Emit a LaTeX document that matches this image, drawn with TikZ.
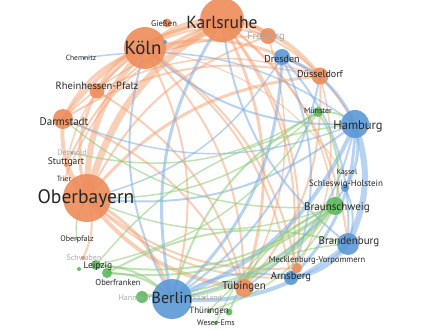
\documentclass[tikz,border=0pt]{standalone}
\usepackage{fontspec}
\setmainfont{PT Sans}
\definecolor{orn}{HTML}{EE8C5A}
\definecolor{ornE}{HTML}{F5A070}
\definecolor{blu}{HTML}{5B98D6}
\definecolor{bluE}{HTML}{7EAEE6}
\definecolor{grn}{HTML}{5CB85C}
\definecolor{grnE}{HTML}{8CCB78}
\definecolor{txt}{HTML}{262626}
\definecolor{faint}{HTML}{ABABAB}
\pgfdeclarelayer{edges}
\pgfsetlayers{edges,main}
\newcommand{\fs}[1]{\fontsize{#1}{#1}\selectfont}
\begin{document}
\begin{tikzpicture}[x=1pt,y=-1pt,
  vert/.style={circle,inner sep=0pt,minimum size=#1,draw=none,fill opacity=0.9},
  vo/.style={vert=#1,fill=orn},
  vb/.style={vert=#1,fill=blu},
  vg/.style={vert=#1,fill=grn},
  lab/.style={inner sep=0pt,text=txt},
  flab/.style={inner sep=0pt,text=faint},
  eo/.style={draw=ornE,opacity=0.5},
  eb/.style={draw=bluE,opacity=0.55},
  eg/.style={draw=grnE,opacity=0.55}]
\useasboundingbox (0,0) rectangle (423,331);
% vertices
\node[vo=44pt] (Karlsruhe) at (222,20) {};
\node[vo=42pt] (Koeln) at (145,48) {};
\node[vo=48pt] (Oberbayern) at (87,198) {};
\node[vo=9pt] (Giessen) at (167,23) {};
\node[vo=15pt] (Rheinhessen) at (97,91) {};
\node[vo=20pt] (Darmstadt) at (63,119) {};
\node[vo=16pt] (Freiburg) at (268,36) {};
\node[vo=17pt] (Duesseldorf) at (320,76) {};
\node[vo=18pt] (Tuebingen) at (244,288) {};
\node[vo=10pt] (Mecklenburg) at (297,268) {};
\node[vo=4pt] (Stuttgart) at (66,165) {};
\node[vo=3pt] (Trier) at (64,180) {};
\node[vo=4pt] (Schwaben) at (83,258) {};
\node[vo=3pt] (Kassel) at (346,175) {};
\node[vb=28pt] (Hamburg) at (355,124) {};
\node[vb=40pt] (Berlin) at (172,299) {};
\node[vb=22pt] (Brandenburg) at (348,244) {};
\node[vb=16pt] (Dresden) at (282,57) {};
\node[vb=14pt] (Arnsberg) at (291,278) {};
\node[vb=8pt] (Schleswig) at (345,188) {};
\node[vb=3pt] (Chemnitz) at (84,58) {};
\node[vb=4pt] (Extra) at (165,42) {};
\node[vg=18pt] (Braunschweig) at (335,206) {};
\node[vg=10pt] (Muenster) at (318,112) {};
\node[vg=10pt] (Leipzig) at (96,265) {};
\node[vg=10pt] (Oberfranken) at (107,273) {};
\node[vg=12pt] (Hannover) at (142,297) {};
\node[vg=5pt] (Thueringen) at (209,311) {};
\node[vg=7pt] (ExtraG) at (229,312) {};
\node[vg=4pt] (WeserEms) at (216,323) {};
\node[vg=3pt] (Detmold) at (72,153) {};
\node[vg=3pt] (Oberpfalz) at (77,239) {};
\node[vg=4pt] (SmallG) at (79,269) {};
\node[vo=3pt] (Saarland) at (204,298) {};
% edges
\begin{pgfonlayer}{edges}
\foreach \a/\b/\s/\w in {
 Karlsruhe/Koeln/eo/6, Oberbayern/Karlsruhe/eo/7, Darmstadt/Karlsruhe/eo/4,
 Rheinhessen/Karlsruhe/eo/3, Karlsruhe/Duesseldorf/eo/4, Karlsruhe/Freiburg/eo/4,
 Karlsruhe/Tuebingen/eo/3, Karlsruhe/Mecklenburg/eo/2, Karlsruhe/Arnsberg/eo/2,
 Stuttgart/Karlsruhe/eo/2, Koeln/Karlsruhe/eo/3, Karlsruhe/Hamburg/eo/2,
 Karlsruhe/Brandenburg/eo/2, Karlsruhe/Braunschweig/eo/1.5, Trier/Karlsruhe/eo/1.5,
 Oberbayern/Koeln/eo/6, Darmstadt/Koeln/eo/3, Rheinhessen/Koeln/eo/3,
 Koeln/Duesseldorf/eo/3, Koeln/Tuebingen/eo/2, Koeln/Mecklenburg/eo/2,
 Koeln/Arnsberg/eo/2, Koeln/Freiburg/eo/2, Stuttgart/Koeln/eo/1.5,
 Koeln/Kassel/eo/1, Oberbayern/Darmstadt/eo/4, Oberbayern/Rheinhessen/eo/3,
 Tuebingen/Oberbayern/eo/4, Oberbayern/Duesseldorf/eo/3, Mecklenburg/Oberbayern/eo/2,
 Oberbayern/Freiburg/eo/2, Oberbayern/Stuttgart/eo/2, Oberbayern/Schwaben/eo/2,
 Arnsberg/Oberbayern/eo/2, Darmstadt/Tuebingen/eo/2, Darmstadt/Duesseldorf/eo/2,
 Rheinhessen/Tuebingen/eo/2, Duesseldorf/Tuebingen/eo/2, Freiburg/Tuebingen/eo/1.5,
 Duesseldorf/Mecklenburg/eo/1.5, Oberbayern/Berlin/eo/3, Koeln/Berlin/eo/2,
 Rheinhessen/Duesseldorf/eo/1.5, Darmstadt/Freiburg/eo/1.5,
 Hamburg/Berlin/eb/4, Hamburg/Brandenburg/eb/6, Brandenburg/Berlin/eb/4,
 Dresden/Berlin/eb/3, Dresden/Hamburg/eb/3, Dresden/Brandenburg/eb/2,
 Brandenburg/Arnsberg/eb/4, Hamburg/Arnsberg/eb/3, Berlin/Karlsruhe/eb/3,
 Berlin/Koeln/eb/2, Hamburg/Koeln/eb/2, Hamburg/Oberbayern/eb/2,
 Hamburg/Schleswig/eb/3, Schleswig/Berlin/eb/2, Chemnitz/Hamburg/eb/1.5,
 Dresden/Arnsberg/eb/2, Duesseldorf/Berlin/eb/2, Hamburg/Darmstadt/eb/1.5,
 Brandenburg/Karlsruhe/eb/2, Schleswig/Brandenburg/eb/2, Hamburg/Tuebingen/eb/2,
 Dresden/Oberbayern/eb/1.5, Berlin/Arnsberg/eb/2,
 Braunschweig/Berlin/eg/3, Muenster/Braunschweig/eg/2, Braunschweig/Leipzig/eg/2,
 Braunschweig/Hannover/eg/2, Braunschweig/Oberfranken/eg/2, Braunschweig/Thueringen/eg/1.5,
 Muenster/Leipzig/eg/1.5, Muenster/Detmold/eg/1.5, Berlin/Muenster/eg/2,
 Leipzig/Berlin/eg/2, Hannover/Berlin/eg/2, Oberfranken/Brandenburg/eg/2,
 Thueringen/Brandenburg/eg/1.5, Leipzig/Hamburg/eg/1.5, Muenster/Oberbayern/eg/1.5,
 Braunschweig/Oberbayern/eg/1.5, WeserEms/Braunschweig/eg/1.5, Oberpfalz/Oberbayern/eg/1.5,
 Braunschweig/Darmstadt/eg/1.5, Muenster/Hamburg/eg/2, ExtraG/Braunschweig/eg/2,
 Oberfranken/Berlin/eg/2}
 \draw[\s,line width=\w pt] (\a.center) to[bend left=22] (\b.center);
\end{pgfonlayer}
% labels
\node[lab,font=\fs{17.5}] at (222,22) {Karlsruhe};
\node[lab,font=\fs{19}] at (143,48) {Köln};
\node[lab,font=\fs{19.5}] at (86,199) {Oberbayern};
\node[lab,font=\fs{16}] at (172,298) {Berlin};
\node[lab,font=\fs{12.5}] at (358,126) {Hamburg};
\node[lab,font=\fs{11}] at (349,242) {Brandenburg};
\node[lab,font=\fs{11}] at (337,208) {Braunschweig};
\node[lab,font=\fs{9}] at (346,184) {Schleswig-Holstein};
\node[lab,font=\fs{7.5}] at (347,172) {Kassel};
\node[lab,font=\fs{8}] at (318,111) {Münster};
\node[lab,font=\fs{10}] at (320,74) {Düsseldorf};
\node[lab,font=\fs{10}] at (282,59) {Dresden};
\node[flab,font=\fs{10.5}] at (266,37) {Freiburg};
\node[lab,font=\fs{8.5}] at (164,24) {Gießen};
\node[lab,font=\fs{7.5}] at (81,58) {Chemnitz};
\node[lab,font=\fs{10.5}] at (97,86) {Rheinhessen-Pfalz};
\node[lab,font=\fs{11}] at (64,122) {Darmstadt};
\node[flab,font=\fs{8}] at (72,153) {Detmold};
\node[lab,font=\fs{9.5}] at (66,162) {Stuttgart};
\node[lab,font=\fs{7.5}] at (64,179) {Trier};
\node[lab,font=\fs{8}] at (77,239) {Oberpfalz};
\node[flab,font=\fs{8}] at (84,258) {Schwaben};
\node[lab,font=\fs{9.5}] at (98,266) {Leipzig};
\node[lab,font=\fs{8.5}] at (118,283) {Oberfranken};
\node[flab,font=\fs{8}] at (135,298) {Hannover};
\node[flab,font=\fs{8}] at (207,298) {Saarland};
\node[lab,font=\fs{9}] at (209,311) {Thüringen};
\node[lab,font=\fs{8}] at (216,323) {Weser-Ems};
\node[lab,font=\fs{11}] at (244,287) {Tübingen};
\node[lab,font=\fs{10.5}] at (291,277) {Arnsberg};
\node[lab,font=\fs{8.5}] at (317,260) {Mecklenburg-Vorpommern};
\end{tikzpicture}
\end{document}
